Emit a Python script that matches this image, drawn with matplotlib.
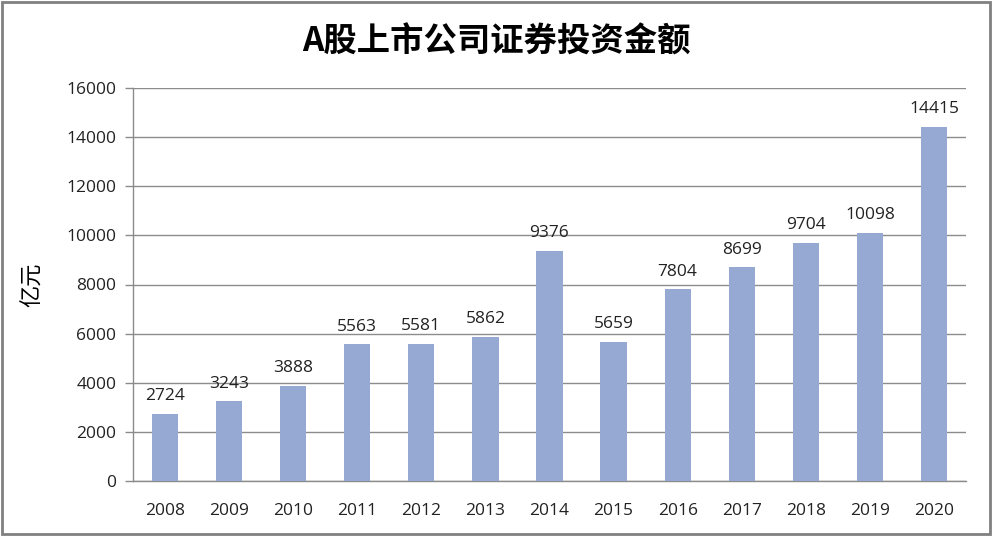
import matplotlib
matplotlib.use("Agg")
import matplotlib.pyplot as plt
from matplotlib.patches import Rectangle

plt.rcParams['font.family'] = ['Noto Sans CJK SC', 'DejaVu Sans']

years = ['2008', '2009', '2010', '2011', '2012', '2013', '2014',
         '2015', '2016', '2017', '2018', '2019', '2020']
amounts = [2724, 3243, 3888, 5563, 5581, 5862, 9376,
           5659, 7804, 8699, 9704, 10098, 14415]
yticks = [0, 2000, 4000, 6000, 8000, 10000, 12000, 14000, 16000]

title = 'A股上市公司证券投资金额'
ylabel = '亿元'

fig = plt.figure(figsize=(9.92, 5.36), dpi=100)
ax = fig.add_axes([133 / 992, 1 - 481 / 536, (966 - 133) / 992, (481 - 88) / 536])

x = range(len(years))
bars = ax.bar(x, amounts, width=0.41, color='#95a9d3', zorder=3)

for i, v in enumerate(amounts):
    ax.annotate(str(v), (i, v), textcoords='offset points', xytext=(0, 7),
                ha='center', va='bottom', fontsize=12.5, color='#222222',
                family=['Open Sans', 'DejaVu Sans'])

ax.set_xlim(-0.5, len(years) - 0.5)
ax.set_ylim(0, 16000)
ax.set_yticks(yticks)
ax.set_xticks(list(x))
ax.set_xticklabels(years)
ax.grid(axis='y', color='#8c8c8c', linewidth=1, zorder=0)

for lab in ax.get_xticklabels() + ax.get_yticklabels():
    lab.set_fontfamily(['Open Sans', 'DejaVu Sans'])
    lab.set_fontsize(12.5)
    lab.set_color('#222222')

ax.tick_params(axis='x', length=0, pad=16)
ax.tick_params(axis='y', length=6, width=1, color='#8c8c8c', pad=6)
for s in ['top', 'right']:
    ax.spines[s].set_visible(False)
for s in ['left', 'bottom']:
    ax.spines[s].set_color('#8c8c8c')
    ax.spines[s].set_linewidth(1)

ax.set_ylabel(ylabel, fontsize=16, labelpad=16)

fig.text(496 / 992, 1 - 42 / 536, title, ha='center', va='center',
         fontsize=24, fontweight='bold')

fig.patches.append(Rectangle((0.002, 0.003), 0.996, 0.994, transform=fig.transFigure,
                             fill=False, edgecolor='#808080', linewidth=2))

fig.savefig('out.png', dpi=100)
